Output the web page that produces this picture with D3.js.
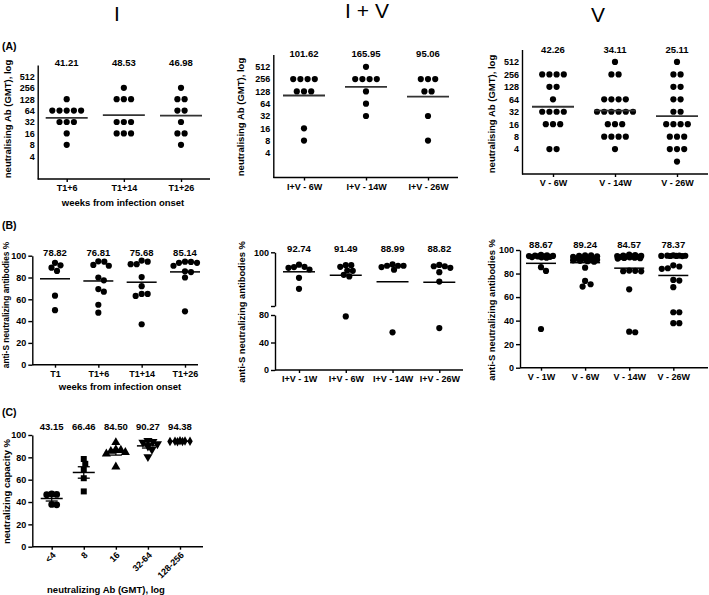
<!DOCTYPE html>
<html><head><meta charset="utf-8">
<script src="https://cdn.jsdelivr.net/npm/d3@7"></script>
<style>
body{margin:0;background:#fff;}
svg{display:block;}
</style></head><body>
<svg id="c" width="709" height="595"></svg>
<script>
// ---------------- DATA ----------------
const headerLabels = ["I", "I + V", "V"];
const panelLetters = ["(A)", "(B)", "(C)"];

const aTicks = [4, 8, 16, 32, 64, 128, 256, 512];
const a1Cats = ["T1+6", "T1+14", "T1+26"];
const a1Values = [
  [128, 64, 64, 64, 64, 64, 32, 32, 32, 16, 8],
  [256, 128, 128, 128, 32, 32, 32, 16, 16, 16],
  [256, 128, 128, 64, 64, 32, 16, 16, 8]
];
const a1Gmt = [41.21, 48.53, 46.98];

const a2Cats = ["I+V - 6W", "I+V - 14W", "I+V - 26W"];
const a2Values = [
  [256, 256, 256, 256, 128, 128, 128, 16, 8],
  [512, 256, 256, 256, 256, 128, 64, 32],
  [256, 256, 256, 128, 128, 32, 8]
];
const a2Gmt = [101.62, 165.95, 95.06];

const a3Cats = ["V - 6W", "V - 14W", "V - 26W"];
const a3Values = [
  [256, 256, 256, 256, 128, 128, 64, 32, 32, 32, 32, 16, 16, 16, 4, 4],
  [512, 256, 256, 64, 64, 64, 64, 32, 32, 32, 32, 32, 32, 16, 16, 16, 8, 8, 8, 8, 4],
  [512, 256, 256, 128, 128, 64, 64, 32, 32, 16, 16, 16, 16, 8, 8, 8, 4, 4, 4, 2]
];
const a3Gmt = [42.26, 34.11, 25.11];

const pctTicks = [0, 20, 40, 60, 80, 100];
const b1Cats = ["T1", "T1+6", "T1+14", "T1+26"];
const b1Values = [
  [93.5, 91.2, 89.0, 86.0, 63.3, 50.0],
  [94.5, 90.8, 91.5, 94.8, 80.0, 77.4, 67.0, 69.4, 55.0, 47.7],
  [94.5, 92.2, 92.2, 95.5, 80.4, 72.0, 64.9, 63.1, 64.9, 37.1],
  [93.5, 94.3, 94.5, 93.5, 90.8, 85.0, 85.7, 80.0, 49.0]
];
const b1Means = [78.82, 76.81, 75.68, 85.14];

const b2LowTicks = [0, 40, 80];
const b2HighTicks = [80, 100];
const b2Cats = ["I+V - 1W", "I+V - 6W", "I+V - 14W", "I+V - 26W"];
const b2Values = [
  [94.5, 95.4, 94.2, 94.6, 93.6, 90.5, 86.4],
  [95.2, 95.2, 94.6, 93.2, 91.6, 91.0, 93.1, 78.0],
  [95.0, 95.5, 94.5, 93.5, 95.0, 95.0, 54.8],
  [94.8, 95.3, 94.8, 94.2, 92.6, 89.1, 61.0]
];
const b2Means = [92.74, 91.49, 88.99, 88.82];

const b3Cats = ["V - 1W", "V - 6W", "V - 14W", "V - 26W"];
const b3Values = [
  [95.5, 95.2, 94.8, 94.5, 95.8, 94.2, 93.8, 95.0, 94.6, 93.5, 94.0, 85.4, 82.2, 32.9],
  [95.5, 95.0, 94.6, 94.2, 93.8, 93.5, 93.0, 92.7, 92.4, 92.0, 91.7, 91.2, 90.8, 90.5, 90.0, 95.4, 85.0, 73.7, 68.9, 70.9],
  [96.0, 95.6, 95.2, 95.0, 94.8, 94.6, 94.4, 94.2, 94.0, 93.8, 93.5, 93.2, 92.7, 93.0, 82.5, 82.0, 82.3, 81.9, 66.6, 30.1, 30.6],
  [95.5, 95.2, 95.0, 94.8, 95.3, 94.9, 95.1, 95.0, 84.5, 84.0, 87.0, 86.0, 74.6, 74.0, 68.4, 47.1, 47.1, 37.8, 37.8]
];
const b3Means = [88.67, 89.24, 84.57, 78.37];

const cCats = ["<4", "8", "16", "32-64", "128-256"];
const cValues = [
  [46.5, 47.2, 46.8, 37.5, 37.8],
  [78.5, 74.2, 68.8, 61.3, 49.5],
  [93.3, 86.5, 85.5, 84.5, 83.2, 87.0, 71.5],
  [94.0, 93.5, 95.0, 92.0, 90.0, 87.0, 80.5],
  [94.8, 94.2, 94.5, 94.0, 94.6, 94.1, 94.5]
];
const cMeans = [43.15, 66.46, 84.50, 90.27, 94.38];

const yTitleA = "neutralising Ab (GMT), log";
const yTitleB = "anti-S neutralizing antibodies %";
const yTitleC = "neutralizing capacity %";
const xTitleWeeks = "weeks from infection onset";
const xTitleC = "neutralizing Ab (GMT), log";

// ---------------- DRAWING ----------------
const FONT = '"Liberation Sans", Arial, Helvetica, sans-serif';
const svg = d3.select("#c");
svg.append("rect").attr("width", 709).attr("height", 595).attr("fill", "#fff");

function txt(g, x, y, s, size, opts = {}) {
  const t = g.append("text").attr("x", x).attr("y", y).text(s)
    .attr("font-family", opts.family || FONT)
    .attr("font-size", size)
    .attr("font-weight", opts.weight || "bold")
    .attr("text-anchor", opts.anchor || "middle")
    .attr("fill", "#000");
  if (opts.rotate) t.attr("transform", `rotate(${opts.rotate},${x},${y})`);
  if (opts.baseline) t.attr("dominant-baseline", opts.baseline);
  return t;
}

function styleAxis(sel) {
  sel.attr("font-family", FONT).attr("font-size", 9).attr("font-weight", "bold");
  sel.selectAll(".domain, line").attr("stroke", "#000").attr("stroke-width", 1.4);
  sel.selectAll("text").attr("fill", "#000");
}

// width-limited swarm placement: returns points with x offsets
function swarm(vals, yf, minDist, maxOff) {
  const pts = vals.map((v, i) => ({ v, i, y: yf(v) }));
  const order = pts.slice().sort((a, b) => a.y - b.y);
  const placed = [];
  order.forEach(p => {
    let chosen = null, bestOff = 0, bestScore = -1;
    for (let k = 0; k < 400; k++) {
      const off = (k % 2 === 1 ? 1 : -1) * Math.ceil(k / 2) * 0.5 + 0;
      if (Math.abs(off) > maxOff) break;
      let md = Infinity;
      placed.forEach(q => { md = Math.min(md, Math.hypot(q.dx - off, q.y - p.y)); });
      if (md >= minDist) { chosen = off; break; }
      if (md > bestScore) { bestScore = md; bestOff = off; }
    }
    p.dx = chosen !== null ? chosen : bestOff;
    placed.push(p);
  });
  return pts;
}

// headers
const headerPos = [[117, 21], [367, 18], [598, 22]];
headerLabels.forEach((h, i) => {
  txt(svg, headerPos[i][0], headerPos[i][1], h, 21,
    { weight: "normal", family: '"Liberation Sans Narrow", "Liberation Sans", Arial, sans-serif' });
});
// panel letters
[[2, 50], [2, 229], [2, 416]].forEach((p, i) => {
  txt(svg, p[0], p[1], panelLetters[i], 10.5, { anchor: "start" });
});

// ---------- A panels (log2 dot plots) ----------
function panelA(cfg) {
  const g = svg.append("g");
  const x = d3.scalePoint().domain(cfg.cats).range(cfg.xr);
  const y = d3.scaleLog().base(2).domain([1, 1024]).range([cfg.y0, cfg.y1]);
  const ya = g.append("g").attr("transform", `translate(${cfg.ax},0)`)
    .call(d3.axisLeft(y).tickValues(aTicks).tickFormat(d3.format("d")).tickSize(0).tickSizeOuter(0).tickPadding(3));
  styleAxis(ya);
  const xa = g.append("g").attr("transform", `translate(0,${cfg.y0})`)
    .call(d3.axisBottom(x).tickSize(3).tickSizeOuter(0).tickPadding(3));
  xa.select(".domain").remove();
  styleAxis(xa);
  g.append("line").attr("x1", cfg.ax).attr("x2", cfg.xEnd).attr("y1", cfg.y0).attr("y2", cfg.y0)
    .attr("stroke", "#000").attr("stroke-width", 1.4);
  const sp = 7.2;
  cfg.values.forEach((vals, ci) => {
    const cx = x(cfg.cats[ci]);
    const groups = d3.groups(vals, d => d);
    groups.forEach(([v, arr]) => {
      arr.forEach((_, k) => {
        g.append("circle").attr("cx", cx + (k - (arr.length - 1) / 2) * sp).attr("cy", y(v))
          .attr("r", 3.1).attr("fill", "#000");
      });
    });
    g.append("line").attr("x1", cx - 21).attr("x2", cx + 21)
      .attr("y1", y(cfg.gmt[ci])).attr("y2", y(cfg.gmt[ci]))
      .attr("stroke", "#333").attr("stroke-width", 1.8);
    txt(g, cx, cfg.labY, cfg.gmt[ci].toFixed(2), 9.5);
  });
  txt(g, cfg.ytx, cfg.yty, yTitleA, 9.5, { rotate: -90, baseline: "central" });
  if (cfg.xTitle) txt(g, cfg.xTitle[0], cfg.xTitle[1], xTitleWeeks, 9.5);
}

panelA({ cats: a1Cats, values: a1Values, gmt: a1Gmt, xr: [66.7, 181], ax: 37.7, xEnd: 210,
  y0: 179, y1: 65, labY: 66, ytx: 7, yty: 119, xTitle: [123, 205.5] });
panelA({ cats: a2Cats, values: a2Values, gmt: a2Gmt, xr: [304, 428], ax: 273.3, xEnd: 458,
  y0: 177.5, y1: 54.5, labY: 57, ytx: 240, yty: 117 });
panelA({ cats: a3Cats, values: a3Values, gmt: a3Gmt, xr: [553, 677], ax: 522, xEnd: 708,
  y0: 174, y1: 49.5, labY: 53, ytx: 491.7, yty: 114 });

// ---------- B panels (percent scatter) ----------
function panelB(cfg) {
  const g = svg.append("g");
  const x = d3.scalePoint().domain(cfg.cats).range(cfg.xr);
  const xa = g.append("g").attr("transform", `translate(0,${cfg.y0})`)
    .call(d3.axisBottom(x).tickSize(3).tickSizeOuter(0).tickPadding(3));
  xa.select(".domain").remove();
  styleAxis(xa);
  g.append("line").attr("x1", cfg.ax).attr("x2", cfg.xEnd).attr("y1", cfg.y0).attr("y2", cfg.y0)
    .attr("stroke", "#000").attr("stroke-width", 1.4);
  cfg.drawY(g);
  cfg.values.forEach((vals, ci) => {
    const cx = x(cfg.cats[ci]);
    swarm(vals, cfg.yf, cfg.minDist, cfg.maxOff).forEach(p => {
      g.append("circle").attr("cx", cx + p.dx).attr("cy", p.y).attr("r", 3.1).attr("fill", "#000");
    });
    const my = cfg.yf(cfg.means[ci]);
    g.append("line").attr("x1", cx - cfg.half).attr("x2", cx + cfg.half).attr("y1", my).attr("y2", my)
      .attr("stroke", "#000").attr("stroke-width", 1.5);
    txt(g, cx, cfg.labY, cfg.means[ci].toFixed(2), 9.5);
  });
  txt(g, cfg.ytx, cfg.yty, yTitleB, cfg.ytSize, { rotate: -90, baseline: "central" });
  if (cfg.xTitle) txt(g, cfg.xTitle[0], cfg.xTitle[1], xTitleWeeks, 9.5);
}

function linearY(ax, y0, y100) {
  const y = d3.scaleLinear().domain([0, 100]).range([y0, y100]);
  return {
    yf: v => y(v),
    drawY: g => {
      const a = g.append("g").attr("transform", `translate(${ax},0)`)
        .call(d3.axisLeft(y).tickValues(pctTicks).tickSize(4).tickSizeOuter(0).tickPadding(2));
      styleAxis(a);
    }
  };
}

const b1Y = linearY(32.3, 364.7, 255.7);
panelB({ cats: b1Cats, values: b1Values, means: b1Means, xr: [55, 185], ax: 32.3, xEnd: 198, y0: 364.7,
  yf: b1Y.yf, drawY: b1Y.drawY, minDist: 6, maxOff: 16, half: 15, labY: 255.5,
  ytx: 6, yty: 305, ytSize: 8.4, xTitle: [120, 389.5] });

// broken axis for B2
const b2Low = d3.scaleLinear().domain([0, 80]).range([370, 315]);
const b2High = d3.scaleLinear().domain([80, 100]).range([306, 252.3]);
panelB({ cats: b2Cats, values: b2Values, means: b2Means, xr: [299, 439.3], ax: 275, xEnd: 463, y0: 370,
  yf: v => v >= 80 ? b2High(v) : b2Low(v),
  drawY: g => {
    const a1 = g.append("g").attr("transform", "translate(275,0)")
      .call(d3.axisLeft(b2Low).tickValues(b2LowTicks).tickSize(4).tickSizeOuter(0).tickPadding(2));
    styleAxis(a1);
    const a2 = g.append("g").attr("transform", "translate(275,0)")
      .call(d3.axisLeft(b2High).tickValues(b2HighTicks).tickFormat(d => d === 100 ? "100" : "")
        .tickSize(4).tickSizeOuter(0).tickPadding(2));
    styleAxis(a2);
  },
  minDist: 5.5, maxOff: 14, half: 16, labY: 252, ytx: 241.7, yty: 312, ytSize: 9.4 });

const b3Y = linearY(520, 367.7, 250);
panelB({ cats: b3Cats, values: b3Values, means: b3Means, xr: [541, 673.3], ax: 520, xEnd: 708, y0: 367.7,
  yf: b3Y.yf, drawY: b3Y.drawY, minDist: 6, maxOff: 12, half: 15, labY: 248,
  ytx: 491.7, yty: 310, ytSize: 9.4 });

// ---------- C panel ----------
(function () {
  const g = svg.append("g");
  const ax = 32.3, y0 = 546.7;
  const x = d3.scalePoint().domain(cCats).range([51.7, 180]);
  const y = d3.scaleLinear().domain([0, 100]).range([546.7, 435]);
  const ya = g.append("g").attr("transform", `translate(${ax},0)`)
    .call(d3.axisLeft(y).tickValues(pctTicks).tickSize(4).tickSizeOuter(0).tickPadding(2));
  styleAxis(ya);
  const xa = g.append("g").attr("transform", `translate(0,${y0})`)
    .call(d3.axisBottom(x).tickSize(3).tickSizeOuter(0));
  xa.select(".domain").remove();
  styleAxis(xa);
  xa.selectAll("text").attr("text-anchor", "end").attr("dy", null).attr("y", null)
    .attr("transform", "translate(4,9) rotate(-45)");
  g.append("line").attr("x1", ax).attr("x2", 203).attr("y1", y0).attr("y2", y0)
    .attr("stroke", "#000").attr("stroke-width", 1.4);
  const shapes = [
    { t: d3.symbolCircle, r: 0 }, { t: d3.symbolSquare, r: 0 }, { t: d3.symbolTriangle, r: 0 },
    { t: d3.symbolTriangle, r: 180 }, { t: d3.symbolDiamond, r: 0 }
  ];
  cValues.forEach((vals, ci) => {
    const cx = x(cCats[ci]);
    const sh = shapes[ci];
    const sym = d3.symbol().type(sh.t).size(ci === 4 ? 26 : 36);
    swarm(vals, v => y(v), 5, 11).forEach(p => {
      g.append("path").attr("d", sym())
        .attr("transform", `translate(${cx + p.dx},${p.y}) rotate(${sh.r})`).attr("fill", "#000");
    });
    const m = cMeans[ci];
    const sd = d3.deviation(vals) || 0;
    const sem = sd / Math.sqrt(vals.length);
    g.append("line").attr("x1", cx - 11).attr("x2", cx + 11).attr("y1", y(m)).attr("y2", y(m))
      .attr("stroke", "#000").attr("stroke-width", 1.5);
    g.append("line").attr("x1", cx).attr("x2", cx).attr("y1", y(m - sem)).attr("y2", y(m + sem))
      .attr("stroke", "#000").attr("stroke-width", 1.3);
    [m - sem, m + sem].forEach(v => {
      g.append("line").attr("x1", cx - 6).attr("x2", cx + 6).attr("y1", y(v)).attr("y2", y(v))
        .attr("stroke", "#000").attr("stroke-width", 1.3);
    });
    txt(g, cx, 430, m.toFixed(2), 9.5);
  });
  txt(g, 6, 491.5, yTitleC, 9.5, { rotate: -90, baseline: "central" });
  txt(g, 106, 593, xTitleC, 9.5);
})();
</script>
</body></html>
